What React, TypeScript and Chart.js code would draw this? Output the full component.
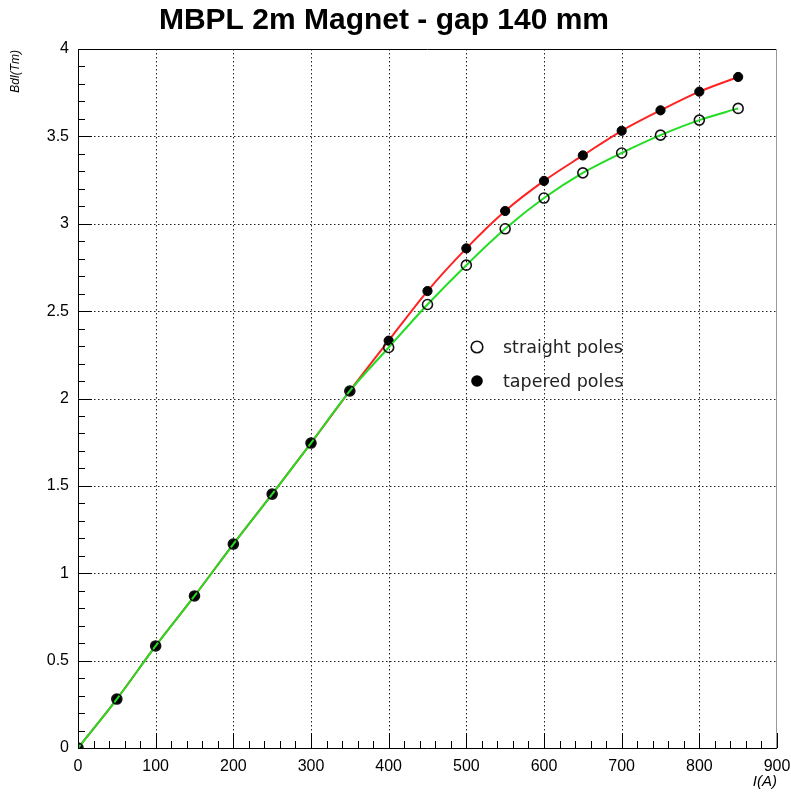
import React, { useEffect, useRef } from "react";
import { Chart, registerables } from "chart.js";

Chart.register(...registerables);

const chartTitle = "MBPL 2m Magnet - gap 140 mm";
const xTitle = "I(A)";
const yTitle = "Bdl(Tm)";
const currents = [0, 50, 100, 150, 200, 250, 300, 350, 400, 450, 500, 550, 600, 650, 700, 750, 800, 850];
const straightBdl = [0, 0.28, 0.584, 0.87, 1.167, 1.453, 1.745, 2.043, 2.292, 2.538, 2.763, 2.971, 3.147, 3.291, 3.405, 3.507, 3.593, 3.66];
const taperedBdl = [0, 0.28, 0.584, 0.87, 1.167, 1.453, 1.745, 2.043, 2.331, 2.615, 2.859, 3.073, 3.245, 3.391, 3.532, 3.649, 3.756, 3.84];
const legendLabels = ["straight poles", "tapered poles"];

const W = 791;
const H = 792;

const decorPlugin = {
  id: "rootDecor",
  beforeDatasetsDraw(chart: any) {
    const { ctx, chartArea: a, scales } = chart;
    const xs = scales.x;
    const ys = scales.y;
    ctx.save();
    ctx.strokeStyle = "#222";
    ctx.lineWidth = 1;
    ctx.setLineDash([1.5, 2.5]);
    for (let v = 100; v < 900; v += 100) {
      const px = Math.round(xs.getPixelForValue(v)) + 0.5;
      ctx.beginPath();
      ctx.moveTo(px, a.top);
      ctx.lineTo(px, a.bottom);
      ctx.stroke();
    }
    for (let v = 0.5; v < 4; v += 0.5) {
      const py = Math.round(ys.getPixelForValue(v)) + 0.5;
      ctx.beginPath();
      ctx.moveTo(a.left, py);
      ctx.lineTo(a.right, py);
      ctx.stroke();
    }
    ctx.restore();
  },
  afterDatasetsDraw(chart: any) {
    const { ctx, chartArea: a, scales } = chart;
    const xs = scales.x;
    const ys = scales.y;
    ctx.save();
    // frame
    ctx.setLineDash([]);
    ctx.lineWidth = 1;
    ctx.strokeStyle = "#000";
    ctx.beginPath();
    ctx.moveTo(a.left + 0.5, a.top);
    ctx.lineTo(a.left + 0.5, a.bottom + 0.5);
    ctx.lineTo(a.right, a.bottom + 0.5);
    ctx.moveTo(a.left, a.top + 0.5);
    ctx.lineTo(a.right, a.top + 0.5);
    ctx.stroke();
    ctx.strokeStyle = "#999";
    ctx.beginPath();
    ctx.moveTo(a.right - 0.5, a.top);
    ctx.lineTo(a.right - 0.5, a.bottom);
    ctx.stroke();
    // ticks
    ctx.strokeStyle = "#000";
    ctx.beginPath();
    for (let i = 0; i <= 45; i++) {
      const v = i * 20;
      const px = Math.round(xs.getPixelForValue(v)) + 0.5;
      const len = i % 5 === 0 ? 15 : 7;
      ctx.moveTo(px, a.bottom);
      ctx.lineTo(px, a.bottom - len);
    }
    for (let i = 0; i <= 40; i++) {
      const v = i * 0.1;
      const py = Math.round(ys.getPixelForValue(v)) + 0.5;
      const len = i % 5 === 0 ? 14 : 7;
      ctx.moveTo(a.left, py);
      ctx.lineTo(a.left + len, py);
    }
    ctx.stroke();
    // title
    ctx.fillStyle = "#000";
    ctx.font = "bold 30px 'Liberation Sans', Arial, sans-serif";
    ctx.textAlign = "center";
    ctx.textBaseline = "alphabetic";
    ctx.fillText(chartTitle, 384, 29);
    // axis titles
    ctx.font = "italic 15px 'Liberation Sans', Arial, sans-serif";
    ctx.textAlign = "right";
    ctx.fillText(xTitle, a.right, 786);
    ctx.save();
    ctx.translate(19, a.top + 1);
    ctx.rotate(-Math.PI / 2);
    ctx.font = "italic 12px 'Liberation Sans', Arial, sans-serif";
    ctx.textAlign = "right";
    ctx.fillText(yTitle, 0, 0);
    ctx.restore();
    // legend
    const lx = 477;
    const ly1 = 347;
    const ly2 = 381;
    ctx.lineWidth = 1.6;
    ctx.strokeStyle = "#111";
    ctx.beginPath();
    ctx.arc(lx, ly1, 5.8, 0, Math.PI * 2);
    ctx.stroke();
    ctx.fillStyle = "#000";
    ctx.beginPath();
    ctx.arc(lx, ly2, 5.8, 0, Math.PI * 2);
    ctx.fill();
    ctx.fillStyle = "#222";
    ctx.font = "17.5px 'DejaVu Sans', sans-serif";
    ctx.textAlign = "left";
    ctx.textBaseline = "middle";
    ctx.fillText(legendLabels[0], 503, ly1 + 1);
    ctx.fillText(legendLabels[1], 503, ly2 + 1);
    ctx.restore();
  },
};

export default function App() {
  const ref = useRef<HTMLCanvasElement | null>(null);
  useEffect(() => {
    document.body.style.margin = "0";
    const canvas = ref.current;
    if (!canvas) return;
    const chart = new Chart(canvas, {
      type: "scatter",
      data: {
        datasets: [
          {
            label: legendLabels[0],
            data: currents.map((x, i) => ({ x, y: straightBdl[i] })),
            showLine: true,
            borderColor: "#22dd22",
            borderWidth: 2,
            cubicInterpolationMode: "monotone",
            pointRadius: 5,
            pointBorderWidth: 1.6,
            pointBorderColor: "#111",
            pointBackgroundColor: "rgba(0,0,0,0)",
          } as any,
          {
            label: legendLabels[1],
            data: currents.map((x, i) => ({ x, y: taperedBdl[i] })),
            showLine: true,
            borderColor: "#ff2222",
            borderWidth: 2,
            cubicInterpolationMode: "monotone",
            pointRadius: 4.6,
            pointBorderWidth: 1,
            pointBorderColor: "#000",
            pointBackgroundColor: "#000",
          } as any,
        ],
      },
      options: {
        responsive: false,
        animation: false,
        devicePixelRatio: 1,
        layout: { padding: { left: 0, top: 49, right: 14, bottom: 0 } },
        plugins: {
          legend: { display: false },
          tooltip: { enabled: false },
          title: { display: false },
        },
        scales: {
          x: {
            type: "linear",
            min: 0,
            max: 900,
            ticks: {
              stepSize: 100,
              color: "#000",
              padding: 9,
              maxRotation: 0,
              font: { family: "'Liberation Sans', Arial, sans-serif", size: 16 },
              callback: (v: any) => String(Number(v)),
            },
            grid: { display: false, drawTicks: false },
            border: { display: false },
            afterFit: (s: any) => {
              s.height = 44;
              s.paddingLeft = 0;
              s.paddingRight = 0;
            },
          },
          y: {
            type: "linear",
            min: 0,
            max: 4,
            ticks: {
              stepSize: 0.5,
              color: "#000",
              padding: 9,
              font: { family: "'Liberation Sans', Arial, sans-serif", size: 16 },
              callback: (v: any) => String(Number(v)),
            },
            grid: { display: false, drawTicks: false },
            border: { display: false },
            afterFit: (s: any) => {
              s.width = 78;
              s.paddingTop = 0;
              s.paddingBottom = 0;
            },
          },
        },
      },
      plugins: [decorPlugin],
    });
    return () => chart.destroy();
  }, []);
  return (
    <div style={{ width: W, height: H, background: "#fff" }}>
      <canvas ref={ref} width={W} height={H} style={{ display: "block" }} />
    </div>
  );
}
